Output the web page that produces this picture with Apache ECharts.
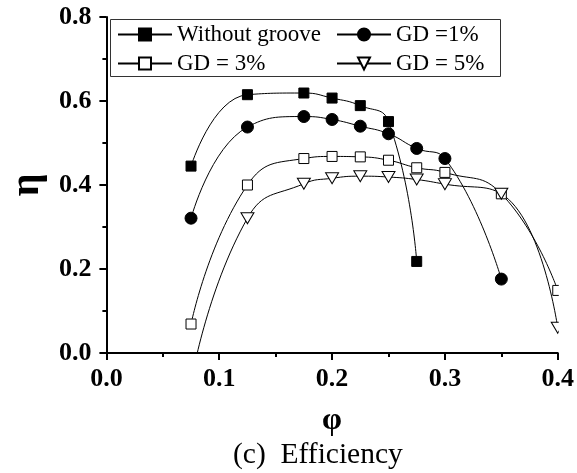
<!DOCTYPE html>
<html>
<head>
<meta charset="utf-8">
<script src="https://cdn.jsdelivr.net/npm/echarts@6/dist/echarts.min.js"></script>
<style>
  html, body { margin: 0; padding: 0; background: #fff; }
  #chart { width: 577px; height: 473px; }
</style>
</head>
<body>
<div id="chart"></div>
<script>
// Flow coefficient φ at each operating point
const phi = [0.075, 0.125, 0.175, 0.2, 0.225, 0.25, 0.275, 0.3, 0.35, 0.4];

// Efficiency η for each groove depth
const noGroove = [0.445, 0.615, 0.619, 0.607, 0.589, 0.551, 0.218];
const gd1 = [0.321, 0.538, 0.563, 0.556, 0.540, 0.522, 0.487, 0.463, 0.176];
const gd3 = [0.069, 0.400, 0.463, 0.468, 0.467, 0.459, 0.441, 0.430, 0.379, 0.149];
const gd5 = [-0.07, 0.321, 0.403, 0.416, 0.421, 0.419, 0.413, 0.402, 0.379, 0.06];

const seriesNames = ['Without groove', 'GD =1%', 'GD = 3%', 'GD = 5%'];
const xTicks = { min: 0, max: 0.4, interval: 0.1 };
const yTicks = { min: 0, max: 0.8, interval: 0.2 };
const caption = '(c)  Efficiency';

const FONT = '"Liberation Serif", "Times New Roman", serif';
const pair = (ys) => ys.map((y, i) => [phi[i], y]);
const downTriangle = 'path://M0,0 L10,0 L5,9 Z';

function lineSeries(name, ys, symbol, size, fill) {
  return {
    name: name,
    type: 'line',
    data: pair(ys),
    smooth: 0.5,
    clip: true,
    symbol: symbol,
    symbolSize: size,
    showAllSymbol: true,
    lineStyle: { color: '#000', width: 1 },
    itemStyle: { color: fill, borderColor: '#000', borderWidth: 1 },
    emphasis: { disabled: true },
    animation: false
  };
}

const axisCommon = {
  type: 'value',
  axisLine: { show: true, lineStyle: { color: '#000', width: 2 } },
  axisTick: { show: true, inside: false, length: 7, lineStyle: { color: '#000', width: 2 } },
  minorTick: { show: true, splitNumber: 2, length: 4, lineStyle: { color: '#000', width: 2 } },
  splitLine: { show: false },
  minorSplitLine: { show: false },
  axisLabel: {
    color: '#000', fontFamily: FONT, fontWeight: 'bold', fontSize: 26,
    formatter: (v) => v.toFixed(1)
  }
};

const chart = echarts.init(document.getElementById('chart'), null, { renderer: 'canvas' });

const legendText = { color: '#000', fontFamily: FONT, fontSize: 23 };

chart.setOption({
  backgroundColor: '#fff',
  animation: false,
  grid: { left: 103, right: 17, top: 17, bottom: 120, containLabel: false },
  title: {
    text: caption,
    left: 233, top: 440, padding: 0,
    textStyle: { color: '#000', fontFamily: FONT, fontWeight: 'normal', fontSize: 29.5 }
  },
  legend: [
    {
      data: [seriesNames[0], seriesNames[2]],
      orient: 'vertical', left: 117, top: 23, padding: 0,
      itemWidth: 54, itemHeight: 15, itemGap: 6,
      textStyle: legendText, selectedMode: false
    },
    {
      data: [seriesNames[1], seriesNames[3]],
      orient: 'vertical', left: 336, top: 23, padding: 0,
      itemWidth: 54, itemHeight: 15, itemGap: 6,
      textStyle: legendText, selectedMode: false
    }
  ],
  xAxis: Object.assign({}, axisCommon, {
    min: xTicks.min, max: xTicks.max, interval: xTicks.interval,
    name: 'φ', nameLocation: 'middle', nameGap: 52,
    nameTextStyle: { color: '#000', fontFamily: FONT, fontWeight: 'bold', fontSize: 32 },
    axisLabel: Object.assign({}, axisCommon.axisLabel, { margin: 13 })
  }),
  yAxis: Object.assign({}, axisCommon, {
    min: yTicks.min, max: yTicks.max, interval: yTicks.interval,
    name: 'η', nameLocation: 'middle', nameGap: 58,
    nameTextStyle: { color: '#000', fontFamily: FONT, fontWeight: 'bold', fontSize: 40 },
    axisLabel: Object.assign({}, axisCommon.axisLabel, { margin: 15 })
  }),
  series: [
    lineSeries(seriesNames[0], noGroove, 'rect', 10, '#000'),
    lineSeries(seriesNames[1], gd1, 'circle', 12, '#000'),
    lineSeries(seriesNames[2], gd3, 'rect', 10, '#fff'),
    lineSeries(seriesNames[3], gd5, downTriangle, [13, 11], '#fff')
  ]
});

// Frame around the legend and a mask so markers stop at the right edge of the plot
const rightEdge = chart.convertToPixel({ gridIndex: 0 }, [xTicks.max, yTicks.min]);
chart.setOption({
  graphic: [
    {
      type: 'rect', silent: true, z: 50,
      shape: { x: 110.5, y: 19.5, width: 390, height: 57 },
      style: { fill: 'none', stroke: '#333', lineWidth: 1 }
    },
    {
      type: 'rect', silent: true, z: 50,
      shape: { x: rightEdge[0] + 1, y: 0, width: 577 - rightEdge[0], height: rightEdge[1] - 1 },
      style: { fill: '#fff' }
    }
  ]
});
</script>
</body>
</html>
